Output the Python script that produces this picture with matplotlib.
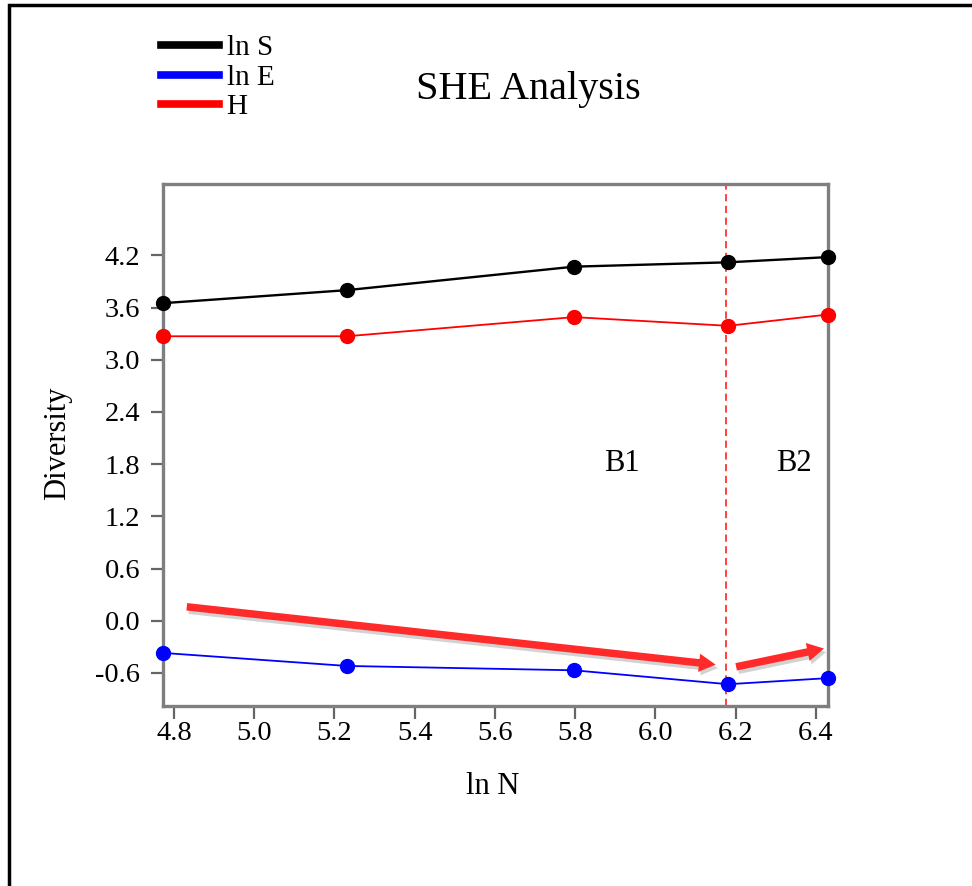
import matplotlib
matplotlib.use("Agg")
import matplotlib.pyplot as plt
import matplotlib.patheffects as pe
from matplotlib.lines import Line2D
from matplotlib.patches import Rectangle

plt.rcParams['font.family'] = ['Liberation Serif', 'DejaVu Serif']

# data
ln_n = [4.772, 5.231, 5.797, 6.181, 6.43]
ln_s = [3.65, 3.80, 4.07, 4.12, 4.18]
ln_e = [-0.37, -0.52, -0.57, -0.73, -0.66]
h_index = [3.27, 3.27, 3.49, 3.39, 3.52]
series_names = ["ln S", "ln E", "H"]
series_colors = ["black", "blue", "red"]
xticks = [4.8, 5.0, 5.2, 5.4, 5.6, 5.8, 6.0, 6.2, 6.4]
yticks = [-0.6, 0.0, 0.6, 1.2, 1.8, 2.4, 3.0, 3.6, 4.2]
break_x = 6.175
# trend arrows (tail, head)
arrows = [((4.832, 0.16), (6.150, -0.505)),
          ((6.201, -0.53), (6.420, -0.32))]
zone_labels = [("B1", 5.917, 1.81), ("B2", 6.346, 1.81)]

fig = plt.figure(figsize=(9.72, 8.86), dpi=100)
ax = fig.add_axes([0.1674, 0.2032, 0.6845, 0.5891])

for vals, name, col in zip([ln_s, ln_e, h_index], series_names, series_colors):
    lw = 1.7 if col == "black" else 1.3
    ax.plot(ln_n, vals, color=col, lw=lw, marker="o", ms=10, clip_on=False, zorder=3)

ax.axvline(break_x, color="#ff3333", lw=1.3, ls=(0, (4, 2.5)), zorder=2)

for (x0, y0), (x1, y1) in arrows:
    ann = ax.annotate("", xy=(x1, y1), xytext=(x0, y0),
                      arrowprops=dict(arrowstyle="simple,head_length=1.0,head_width=1.1,tail_width=0.45",
                                      mutation_scale=12, fc="#ff2a2a", ec="none",
                                      shrinkA=0, shrinkB=0))
    ann.arrow_patch.set_path_effects([pe.withSimplePatchShadow(offset=(1.5, -2.5), shadow_rgbFace="grey", alpha=0.35)])

for txt, x, y in zone_labels:
    ax.text(x, y, txt, fontsize=22, ha="center", va="center")

ax.set_xlim(4.772, 6.43)
ax.set_ylim(-0.98, 5.02)
ax.set_xticks(xticks)
ax.set_yticks(yticks)
ax.set_xticklabels([f"{v:.1f}" for v in xticks])
ax.set_yticklabels([f"{v:.1f}" for v in yticks])
ax.tick_params(direction="out", length=9, width=1.6, color="#666666", labelsize=20.5)
ax.tick_params(axis="x", pad=2)
ax.tick_params(axis="y", pad=7)
for sp in ax.spines.values():
    sp.set_color("#7f7f7f")
    sp.set_linewidth(2.4)

ax.set_xlabel("ln N", fontsize=22)
ax.set_ylabel("Diversity", fontsize=22)
ax.xaxis.set_label_coords(0.496, -0.126)
ax.yaxis.set_label_coords(-0.136, 0.504)

fig.text(528 / 972, 1 - 90 / 886, "SHE Analysis", fontsize=29, ha="center", va="center")

handles = [Line2D([], [], color=c, lw=5.5) for c in series_colors]
fig.legend(handles, series_names, loc="upper left", bbox_to_anchor=(161 / 972, 1 - 35 / 886),
           frameon=False, fontsize=21, handlelength=2.0, handletextpad=0.25,
           labelspacing=0.1, borderpad=0, borderaxespad=0)

# outer frame
fig.add_artist(Rectangle((9 / 972, -0.05), 1.1, 1 - 5 / 886 + 0.05, transform=fig.transFigure,
                         fill=False, ec="black", lw=2.5))

fig.savefig("out.png", dpi=100)
